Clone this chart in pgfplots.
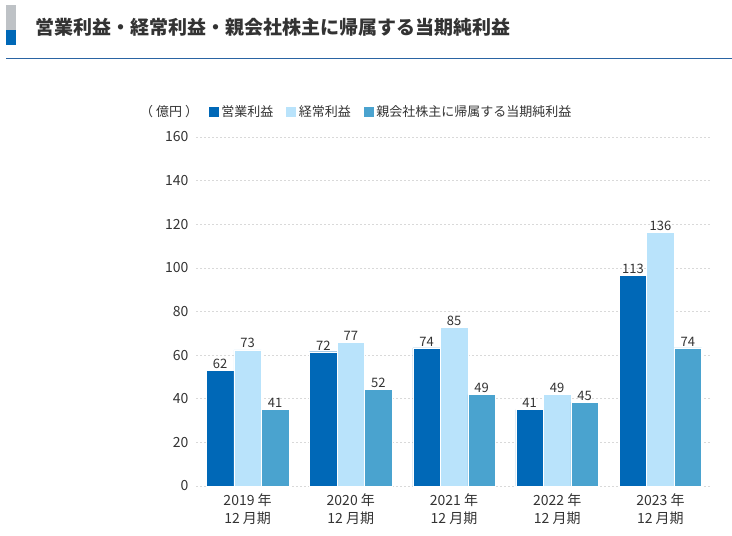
\documentclass[border=0pt]{standalone}
\usepackage{fontspec}
\setmainfont{Noto Sans CJK JP}
\usepackage{pgfplots}
\pgfplotsset{compat=1.18}
\definecolor{c1}{HTML}{0068B7}
\definecolor{c2}{HTML}{B9E3FB}
\definecolor{c3}{HTML}{4AA3CF}
\definecolor{txt}{HTML}{333333}
\definecolor{hdgray}{HTML}{BEC2C6}
\definecolor{rule}{HTML}{2A64A3}
\definecolor{gridc}{HTML}{D9D9D9}
\begin{document}
\begin{tikzpicture}[x=1pt,y=1pt]
\path[use as bounding box] (0,0) rectangle (732,536);
% header
\fill[hdgray] (6,531) rectangle (16,506);
\fill[c1] (6,506) rectangle (16,491);
\node[anchor=west, inner sep=0pt, text=txt, font=\fontsize{19}{19}\selectfont\bfseries] at (35,509) {営業利益・経常利益・親会社株主に帰属する当期純利益};
\draw[rule, line width=1pt] (6,477) -- (732,477);
\node[anchor=west, inner sep=0pt, text=txt, font=\fontsize{13}{13}\selectfont] at (140,424) {（ 億円 ）};
\begin{axis}[
  at={(196pt,50pt)}, anchor=south west,
  scale only axis, width=516pt, height=349pt,
  xmin=-0.5, xmax=4.5, ymin=0, ymax=187.135,
  ybar=0pt, bar width=27.5pt,
  axis line style={draw=none}, major tick length=0pt,
  ymajorgrids, xmajorgrids=false,
  major grid style={dash pattern=on 2pt off 2pt, color=gridc, line width=0.7pt},
  ytick={0,23.392,46.784,70.175,93.567,116.959,140.351,163.743,187.135},
  yticklabels={0,20,40,60,80,100,120,140,160},
  yticklabel style={font=\fontsize{14}{14}\selectfont, text=txt, xshift=-4pt},
  xtick={0,1,2,3,4},
  xticklabels={{2019 年\\12 月期},{2020 年\\12 月期},{2021 年\\12 月期},{2022 年\\12 月期},{2023 年\\12 月期}},
  xticklabel style={align=center, font=\fontsize{14}{18}\selectfont, text=txt, yshift=-4pt},
  /pgf/number format/assume math mode=true,
  nodes near coords,
  nodes near coords style={font=\fontsize{13}{13}\selectfont, text=txt, inner sep=1.5pt, /pgf/number format/fixed, /pgf/number format/precision=0},
  legend style={draw=none, fill=none, legend columns=-1, anchor=west,
    at={(axis description cs:0.023,1.0716)}, font=\fontsize{13}{13}\selectfont, text=txt,
    /tikz/every even column/.append style={column sep=10pt}, inner sep=0pt},
  legend image code/.code={\fill[#1] (0pt,-5.5pt) rectangle (11pt,5.5pt);},
  clip=false,
]
\addplot[fill=c1, draw=white, line width=0.4pt] coordinates {(0,62) (1,72) (2,74) (3,41) (4,113)};
\addplot[fill=c2, draw=white, line width=0.4pt] coordinates {(0,73) (1,77) (2,85) (3,49) (4,136)};
\addplot[fill=c3, draw=white, line width=0.4pt] coordinates {(0,41) (1,52) (2,49) (3,45) (4,74)};
\legend{営業利益,経常利益,親会社株主に帰属する当期純利益}
\end{axis}
\end{tikzpicture}
\end{document}
